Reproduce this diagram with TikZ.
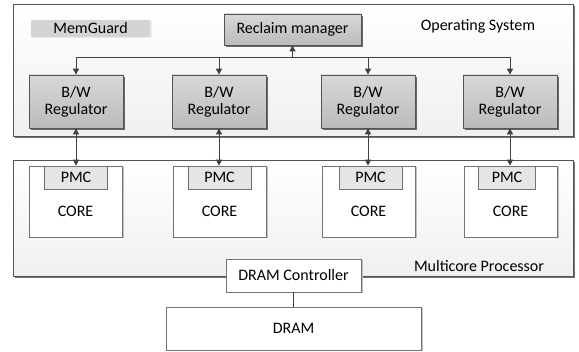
\documentclass[tikz,border=0pt]{standalone}
\usepackage{fontspec}
\setmainfont{Carlito}
\usetikzlibrary{shadows,arrows.meta}
\definecolor{edge}{HTML}{555555}
\definecolor{lineclr}{HTML}{404040}
\definecolor{regtop}{HTML}{D8D8D8}
\definecolor{regbot}{HTML}{BBBBBB}
\tikzset{
  every node/.style={font=\fontsize{16}{17}\selectfont, text=black},
  panel/.style={draw=edge, line width=0.8pt, top color=white, bottom color=black!6,
    drop shadow={shadow xshift=2pt, shadow yshift=-2pt, fill=black!55, opacity=1}},
  graybox/.style={draw=edge, line width=0.8pt, top color=regtop, bottom color=regbot,
    align=center, inner sep=0pt,
    drop shadow={shadow xshift=2pt, shadow yshift=-2pt, fill=black!60, opacity=1}},
  whitebox/.style={draw=black!55, line width=0.7pt, fill=white, inner sep=0pt,
    drop shadow={shadow xshift=1.5pt, shadow yshift=-1.5pt, fill=black!25, opacity=1}},
  pmcbox/.style={draw=black!55, line width=0.7pt, fill=black!10, inner sep=0pt,
    minimum height=23pt},
  tagbox/.style={fill=black!17, inner sep=0pt, minimum width=119pt, minimum height=17pt,
    drop shadow={shadow xshift=1.5pt, shadow yshift=-1.5pt, fill=black!8, opacity=1}},
  arr/.style={draw=lineclr, line width=1pt, -{Triangle[length=6pt,width=6pt]}},
  darr/.style={draw=lineclr, line width=1pt, {Triangle[length=6pt,width=6pt]}-{Triangle[length=6pt,width=6pt]}},
  plain/.style={draw=lineclr, line width=0.8pt},
}
\begin{document}
\begin{tikzpicture}[x=1pt, y=-1pt]
\useasboundingbox (0,0) rectangle (579,352);

% Operating system layer
\node[panel, minimum width=560pt, minimum height=132pt] (os) at (293,70) {};
\node (oslabel) at (478,26) {Operating System};
\node[tagbox] (memguard) at (90.5,28.5) {MemGuard};
\node[graybox, minimum width=137pt, minimum height=31pt] (reclaim) at (292.5,29.5) {Reclaim manager};

\foreach \i/\x in {1/76, 2/219, 3/368, 4/510}{
  \node[graybox, minimum width=94pt, minimum height=53pt] (reg\i) at (\x,101.5) {B/W\\Regulator};
  \coordinate (bus\i) at (\x,57);
}
\coordinate (busmid) at (292.5,57);

% Multicore processor layer
\node[panel, minimum width=560pt, minimum height=116pt] (mc) at (293,218) {};
\node (mclabel) at (479,266) {Multicore Processor};

\foreach \i/\x/\px/\pw in {1/75.5/76/63, 2/219.5/219.5/63, 3/368.5/370.5/63, 4/510.5/507/57}{
  \node[whitebox, minimum width=93pt, minimum height=71pt] (core\i) at (\x,201.5) {};
  \node[pmcbox, minimum width=\pw pt] (pmc\i) at (\px,177.5) {PMC};
  \node (corelabel\i) at (\x,211) {CORE};
}

% Memory
\node[whitebox, minimum width=135pt, minimum height=33pt] (ctrl) at (293.5,275.5) {DRAM Controller};
\node[whitebox, minimum width=255pt, minimum height=43pt] (dram) at (293.5,328.5) {DRAM};

% Connectors
\draw[plain] (bus1) -- (bus4);
\draw[arr] (busmid) -- (reclaim.south);
\foreach \i in {1,...,4}{
  \draw[arr] (bus\i) -- (reg\i.north);
  \draw[darr] (reg\i.south) -- (reg\i.south |- pmc\i.north);
}
\draw[plain] (ctrl.south) -- (dram.north);
\end{tikzpicture}
\end{document}
